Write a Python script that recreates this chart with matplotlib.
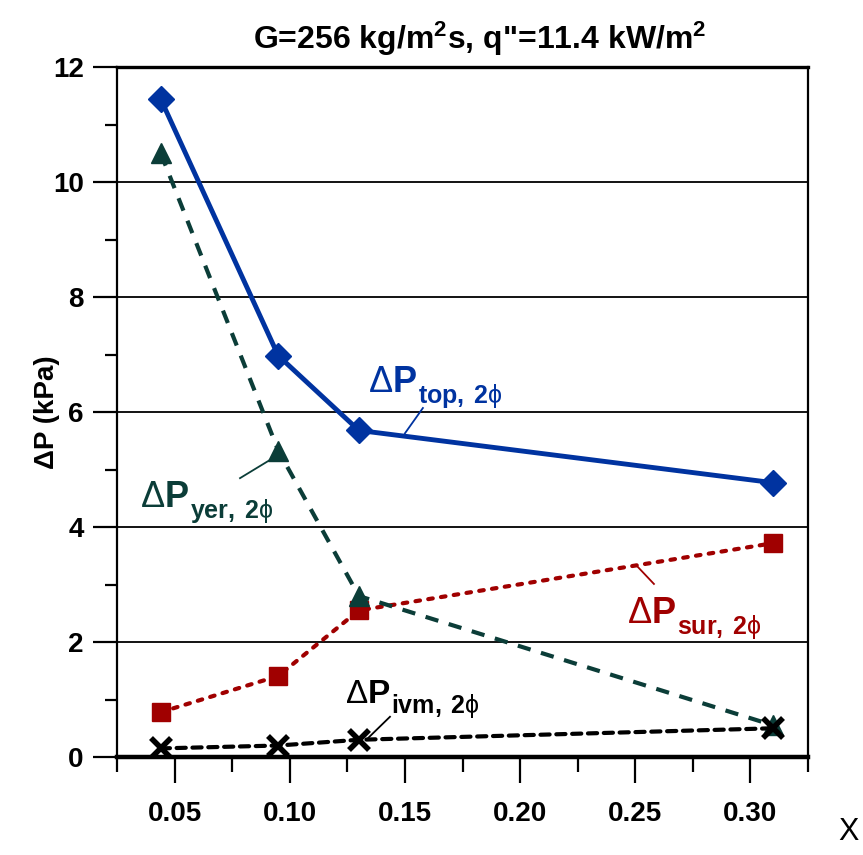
import numpy as np
import matplotlib
matplotlib.use('Agg')
import matplotlib.pyplot as plt
from matplotlib.ticker import MultipleLocator, FormatStrFormatter

plt.rcParams['font.family'] = ['Liberation Sans', 'DejaVu Sans']
plt.rcParams['mathtext.fontset'] = 'custom'
plt.rcParams['mathtext.rm'] = 'Liberation Sans'
plt.rcParams['mathtext.bf'] = 'Liberation Sans:bold'
plt.rcParams['mathtext.it'] = 'Liberation Sans:italic'
plt.rcParams['mathtext.fallback'] = 'stixsans'

# quality x and the four pressure drop components (kPa)
x_q    = [0.044, 0.095, 0.130, 0.310]
dp_top = [11.44, 6.98, 5.68, 4.77]
dp_yer = [10.50, 5.33, 2.80, 0.55]
dp_sur = [0.78, 1.41, 2.55, 3.72]
dp_ivm = [0.15, 0.20, 0.30, 0.50]

BLUE  = '#0033a0'
TEAL  = '#0b3d38'
RED   = '#a00000'
BLACK = '#000000'

fig = plt.figure(figsize=(8.63, 8.55), dpi=100)
ax = fig.add_axes([0.1356, 0.1146, 0.8007, 0.807])

ax.plot(x_q, dp_sur, color=RED, lw=3, dashes=(1.1, 2.0),
        dash_capstyle='round', marker='s', ms=13, zorder=3)
ax.plot(x_q, dp_yer, color=TEAL, lw=3, dashes=(3.2, 2.6),
        marker='^', ms=15, zorder=4)
ax.plot(x_q, dp_top, color=BLUE, lw=3.5, marker='D', ms=13.5, zorder=5)
ax.plot(x_q, dp_ivm, color=BLACK, lw=3, dashes=(2.2, 1.6),
        dash_capstyle='round', marker='x', ms=14, mew=4, zorder=6)

ax.set_xlim(0.025, 0.325)
ax.set_ylim(0, 12)
ax.xaxis.set_major_locator(MultipleLocator(0.05))
ax.xaxis.set_minor_locator(MultipleLocator(0.025))
ax.yaxis.set_major_locator(MultipleLocator(2))
ax.yaxis.set_minor_locator(MultipleLocator(1))
ax.xaxis.set_major_formatter(FormatStrFormatter('%.2f'))
ax.set_xticks([0.05, 0.10, 0.15, 0.20, 0.25, 0.30])

ax.grid(axis='y', which='major', color='black', lw=1.3)
ax.set_axisbelow(True)
ax.tick_params(axis='both', which='both', direction='out', width=1.6,
               labelsize=20)
ax.tick_params(axis='y', which='major', length=17, pad=7)
ax.tick_params(axis='y', which='minor', length=9)
ax.tick_params(axis='x', which='major', length=19, pad=13)
ax.tick_params(axis='x', which='minor', length=11)
for lab in ax.get_xticklabels() + ax.get_yticklabels():
    lab.set_fontweight('bold')

ax.spines['bottom'].set_linewidth(3.2)
ax.spines['top'].set_linewidth(2.4)
ax.spines['left'].set_linewidth(1.6)
ax.spines['right'].set_linewidth(1.6)

ax.set_ylabel('ΔP (kPa)', fontsize=20, fontweight='bold')
ax.yaxis.set_label_coords(-0.083, 0.5)
fig.text(0.556, 0.955, r'G=256 kg/m$^\mathbf{2}$s, q"=11.4 kW/m$^\mathbf{2}$',
         fontsize=23, fontweight='bold', ha='center', va='center')
fig.text(0.983, 0.027, 'X', fontsize=22, ha='center', va='center')

# curve labels: big "ΔP" plus a lowered subscript, and a leader line
labels = [
    ('top', 0.134, 6.35, BLUE, 26, (0.1578, 6.07), (0.150, 5.63)),
    ('yer', 0.035, 4.35, TEAL, 26, (0.0784, 4.85), (0.0936, 5.22)),
    ('sur', 0.2464, 2.33, RED, 26, (0.2581, 3.01), (0.2503, 3.34)),
    ('ivm', 0.124, 0.94, BLACK, 24, (0.1435, 0.70), (0.134, 0.33)),
]
for sub, tx, ty, col, fs, p0, p1 in labels:
    main = ax.text(tx, ty, r'$\Delta\mathbf{P}$', color=col, fontsize=fs,
                   ha='left', va='baseline', zorder=7)
    ax.annotate(r'$\mathbf{' + sub + r',\;2}\mathrm{ϕ}$', xy=(1, 0),
                xycoords=main, xytext=(1, -3), textcoords='offset pixels',
                color=col, fontsize=18, ha='left', va='baseline', zorder=7)
    ax.plot([p0[0], p1[0]], [p0[1], p1[1]], color=col, lw=1.3, zorder=7)

fig.savefig('out.png', dpi=100)
